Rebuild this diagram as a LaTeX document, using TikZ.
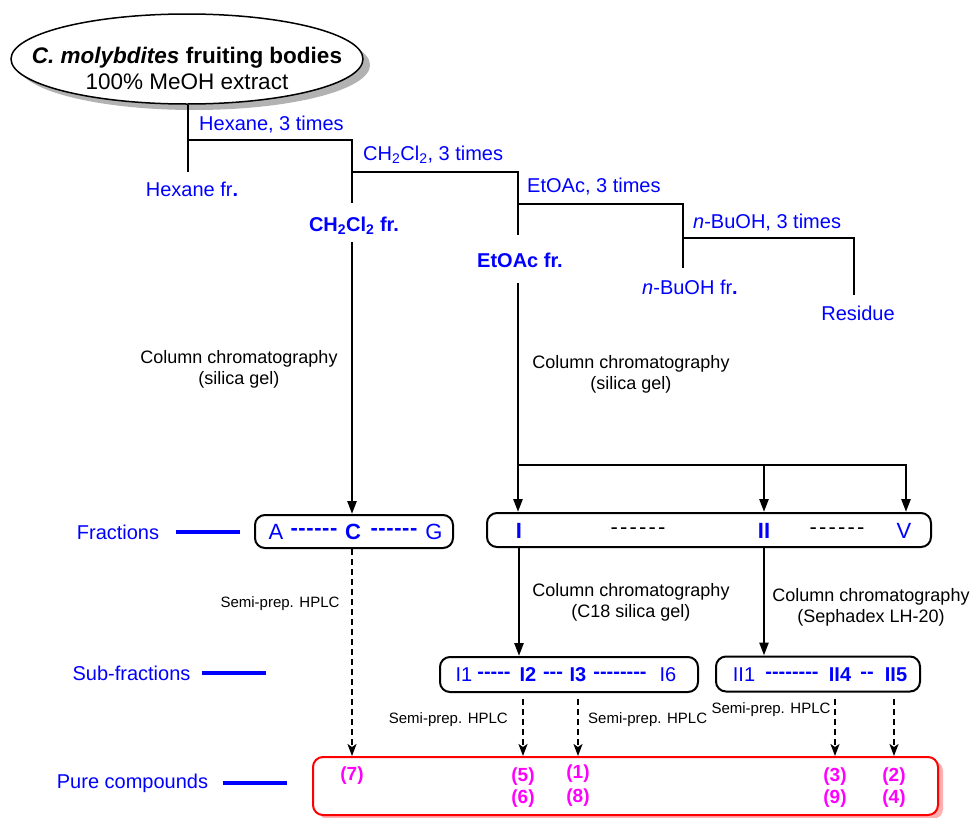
\documentclass[tikz,border=0pt]{standalone}
\usepackage{fontspec}
\setmainfont{Liberation Sans}
\usetikzlibrary{arrows.meta,shapes.geometric,shadows}
\definecolor{bl}{RGB}{0,0,255}
\definecolor{mg}{RGB}{255,0,255}
\definecolor{pinksh}{RGB}{255,175,175}
\newcommand\hh{-\kern0.6pt}
\newcommand\hs{-\kern0pt}
\newcommand\hk{-\kern2.2pt}
\begin{document}
\begin{tikzpicture}[x=1pt,y=-1pt,
  lbl/.style={text=bl, font=\fontsize{20}{24}\selectfont, inner sep=0pt},
  blbl/.style={text=bl, font=\fontsize{20}{24}\selectfont\bfseries, inner sep=0pt},
  frt/.style={text=bl, font=\fontsize{22}{26}\selectfont, inner sep=0pt},
  bfrt/.style={text=bl, font=\fontsize{22}{26}\selectfont\bfseries, inner sep=0pt},
  sft/.style={text=bl, font=\fontsize{20}{24}\selectfont, inner sep=0pt},
  bsft/.style={text=bl, font=\fontsize{20}{24}\selectfont\bfseries, inner sep=0pt},
  cc/.style={font=\fontsize{18}{21}\selectfont, align=center, inner sep=0pt},
  hplc/.style={font=\fontsize{15}{18}\selectfont, inner sep=0pt},
  thk/.style={line width=2.5pt},
  thn/.style={line width=1.5pt},
  arr/.style={line width=2.5pt, -{Triangle[length=13pt,width=9pt]}},
  darr/.style={line width=2pt, dash pattern=on 6pt off 4pt, shorten <=6pt, -{Stealth[length=12pt,width=9pt,inset=3pt]}},
  fbox/.style={draw, line width=2pt, rounded corners=10pt, inner sep=0pt},
  leg/.style={draw=bl, line width=3.5pt},
  cmp/.style={text=mg, font=\fontsize{19}{22}\selectfont\bfseries, inner sep=0pt}
]
\useasboundingbox (0,0) rectangle (971,817);

% source ellipse
\node[ellipse, draw, line width=1.5pt, fill=white, minimum width=352pt, minimum height=90pt,
  drop shadow={shadow xshift=7pt, shadow yshift=-6pt, fill=black!30, opacity=1}] (src) at (187,59) {};
\node[align=center, inner sep=0pt, font=\fontsize{22.5}{26}\selectfont] (srct) at (187,68)
  {\textbf{\textit{C. molybdites} fruiting bodies}\\100\% MeOH extract};

% partition tree
\coordinate (h1) at (188,140);
\coordinate (hexend) at (188,172);
\coordinate (c1) at (352,140);
\coordinate (c1b) at (352,172);
\coordinate (c1end) at (352,203);
\coordinate (e1) at (518,172);
\coordinate (e1b) at (518,204);
\coordinate (e1end) at (518,235);
\coordinate (b1) at (683,204);
\coordinate (b1b) at (683,238);
\coordinate (b1end) at (683,268);
\coordinate (r1) at (854,238);
\coordinate (r1end) at (854,295);

\draw[thk] (src.south -| h1) -- (hexend);
\draw[thk] (h1) -- (c1) -- (c1end);
\draw[thk] (c1b) -- (e1) -- (e1end);
\draw[thk] (e1b) -- (b1) -- (b1end);
\draw[thn] (b1b) -- (r1) -- (r1end);

\node[lbl, anchor=west] (lhex) at (199,125) {Hexane, 3 times};
\node[lbl] (hexfr) at (192,189) {Hexane fr\textbf{.}};
\node[lbl, anchor=west] (ldcm) at (363,155) {CH\textsubscript{2}Cl\textsubscript{2}, 3 times};
\node[blbl] (dcmfr) at (354,226) {CH\textsubscript{2}Cl\textsubscript{2} fr.};
\node[lbl, anchor=west] (lea) at (527,187) {EtOAc, 3 times};
\node[blbl] (eafr) at (520,260) {EtOAc fr.};
\node[lbl, anchor=west] (lbu) at (693,223) {\textit{n}-BuOH, 3 times};
\node[lbl] (bufr) at (690,287) {\textit{n}-BuOH fr\textbf{.}};
\node[lbl] (res) at (858,313) {Residue};

% fractions
\node[fbox, minimum width=198pt, minimum height=33pt] (fr1) at (354,531.5) {};
\node[frt] (fA) at (276,532) {A};
\node[bfrt] (fd1) at (314,532) {\hh\hh\hh\hh\hh-};
\node[bfrt] (fC) at (353,532) {C};
\node[bfrt] (fd2) at (394,532) {\hh\hh\hh\hh\hh-};
\node[frt] (fG) at (434,532) {G};

\node[fbox, minimum width=444pt, minimum height=34pt] (fr2) at (709,530) {};
\node[bfrt] (fI) at (519,531) {I};
\node[font=\fontsize{22}{26}\selectfont, inner sep=0pt] (fdd1) at (638,531) {\hk\hk\hk\hk\hk-};
\node[bfrt] (fII) at (764,531) {II};
\node[font=\fontsize{22}{26}\selectfont, inner sep=0pt] (fdd2) at (837,531) {\hk\hk\hk\hk\hk-};
\node[frt] (fV) at (904,531) {V};

% CH2Cl2 branch
\coordinate (dstart) at (352,242);
\draw[arr] (dstart) -- (dstart |- fr1.north);
\node[cc] (cc1) at (239,369) {Column chromatography\\(silica gel)};

% EtOAc branch
\coordinate (eastart) at (518,283);
\coordinate (cr) at (518,465);
\coordinate (cr3) at (906,465);
\draw[arr] (eastart) -- (eastart |- fr2.north);
\draw[arr] (cr) -- (cr3) -- (cr3 |- fr2.north);
\draw[arr] (fII |- cr) -- (fII |- fr2.north);
\node[cc] (cc2) at (631,374) {Column chromatography\\(silica gel)};

% sub-fractions
\node[fbox, minimum width=258pt, minimum height=35pt] (sf1) at (569,674.5) {};
\node[sft] (s11) at (464,675) {I1};
\node[bsft] (sd1) at (494,675) {\hs\hs\hs\hs-};
\node[bsft] (s12) at (528,675) {I2};
\node[bsft] (sd2) at (553,675) {\hs\hs-};
\node[bsft] (s13) at (578,675) {I3};
\node[bsft] (sd3) at (620,675) {\hs\hs\hs\hs\hs\hs\hs-};
\node[sft] (s16) at (668,675) {I6};

\node[fbox, minimum width=204pt, minimum height=35pt] (sf2) at (818,674) {};
\node[sft] (s21) at (744,675) {II1};
\node[bsft] (sd4) at (792,675) {\hs\hs\hs\hs\hs\hs\hs-};
\node[bsft] (s24) at (840,675) {II4};
\node[bsft] (sd5) at (867,675) {\hs-};
\node[bsft] (s25) at (896,675) {II5};

\draw[arr] (fI |- fr2.south) -- (fI |- sf1.north);
\draw[arr] (fII |- fr2.south) -- (fII |- sf2.north);
\node[cc] (cc3) at (631,602) {Column chromatography\\(C18 silica gel)};
\node[cc] (cc4) at (871,607) {Column chromatography\\(Sephadex LH-20)};

% pure compounds
\node[fbox, draw=red, fill=white, minimum width=625pt, minimum height=58pt,
  drop shadow={shadow xshift=5pt, shadow yshift=-4pt, fill=pinksh, opacity=1}] (pc) at (625.5,786) {};
\node[cmp] (c7) at (352,776) {(7)};
\node[cmp] (c5) at (523,777) {(5)};
\node[cmp] (c6) at (523,799) {(6)};
\node[cmp] (c1) at (578,774) {(1)};
\node[cmp] (c8) at (578,798) {(8)};
\node[cmp] (c3) at (835,777) {(3)};
\node[cmp] (c9) at (835,799) {(9)};
\node[cmp] (c2) at (894,777) {(2)};
\node[cmp] (c4) at (894,799) {(4)};

\draw[darr, shorten <=0pt] (c7 |- fr1.south) -- (c7 |- pc.north);
\draw[darr] (c5 |- sf1.south) -- (c5 |- pc.north);
\draw[darr] (c1 |- sf1.south) -- (c1 |- pc.north);
\draw[darr] (c3 |- sf2.south) -- (c3 |- pc.north);
\draw[darr] (c2 |- sf2.south) -- (c2 |- pc.north);

\node[hplc] (hp1) at (280,604) {Semi-prep. HPLC};
\node[hplc, anchor=east] (hp2) at (508,720) {Semi-prep. HPLC};
\node[hplc, anchor=west] (hp3) at (588,720) {Semi-prep. HPLC};
\node[hplc] (hp4) at (771,710) {Semi-prep. HPLC};

% legend
\node[lbl] (lfr) at (118,532) {Fractions};
\draw[leg] ([xshift=17pt]lfr.east) -- ([xshift=81pt]lfr.east);
\node[lbl] (lsf) at (131.5,673) {Sub-fractions};
\draw[leg] ([xshift=11pt]lsf.east) -- ([xshift=75pt]lsf.east);
\node[lbl] (lpc) at (132.5,783) {Pure compounds};
\draw[leg] ([xshift=15pt]lpc.east) -- ([xshift=79pt]lpc.east);
\end{tikzpicture}
\end{document}
